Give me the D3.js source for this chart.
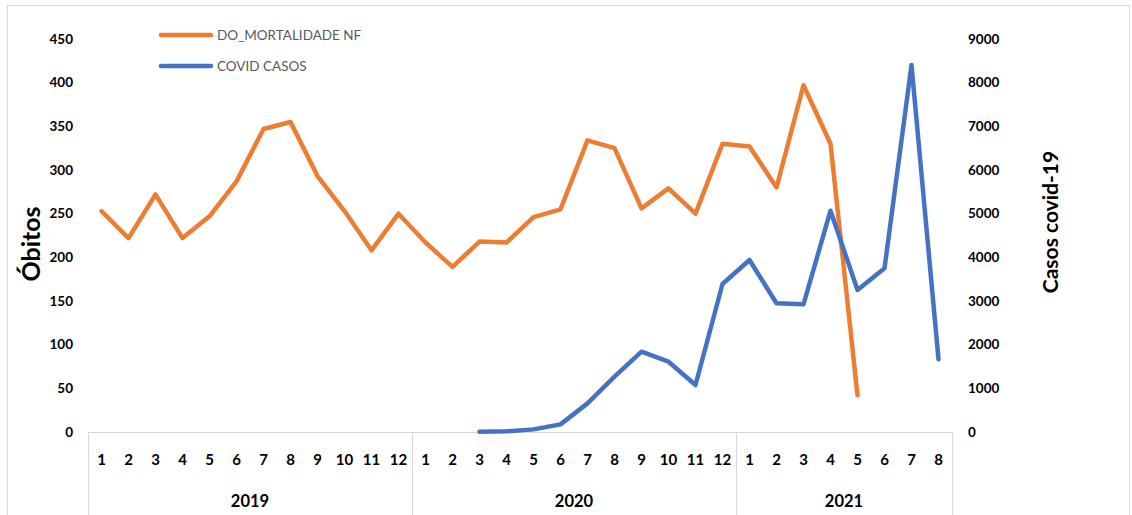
<!DOCTYPE html>
<html>
<head>
<meta charset="utf-8">
<script src="https://cdn.jsdelivr.net/npm/d3@7"></script>
<style>
  body { margin: 0; background: #fff; }
  text { font-family: Lato, "Open Sans", sans-serif; }
</style>
</head>
<body>
<div id="chart"></div>
<script>
const years = ['2019', '2020', '2021'];
const monthsPerYear = [12, 12, 8];
const months = [1,2,3,4,5,6,7,8,9,10,11,12, 1,2,3,4,5,6,7,8,9,10,11,12, 1,2,3,4,5,6,7,8];

// DO_MORTALIDADE NF (left axis)
const mortalidade = [253, 222, 272, 222, 247, 287, 347, 355, 293, 253, 208, 250,
                     217, 189, 218, 217, 246, 255, 334, 325, 256, 279, 250, 330,
                     327, 280, 397, 330, 42, null, null, null];
// COVID CASOS (right axis)
const covid = [null, null, null, null, null, null, null, null, null, null, null, null,
               null, null, 5, 15, 60, 175, 656, 1267, 1840, 1610, 1076, 3389,
               3939, 2947, 2924, 5068, 3252, 3748, 8404, 1665];

const leftTicks = [0, 50, 100, 150, 200, 250, 300, 350, 400, 450];
const rightTicks = [0, 1000, 2000, 3000, 4000, 5000, 6000, 7000, 8000, 9000];

const W = 1132, H = 515;
const margin = { top: 39, left: 88, right: 180, bottom: 83 };
const plotW = W - margin.left - margin.right;
const plotH = H - margin.top - margin.bottom;

const svg = d3.select('#chart').append('svg')
  .attr('width', W).attr('height', H);

// outer frame
svg.append('rect')
  .attr('x', 7.5).attr('y', 5.5).attr('width', W - 10).attr('height', H)
  .attr('fill', 'none').attr('stroke', '#d9d9d9');

const g = svg.append('g')
  .attr('transform', 'translate(' + margin.left + ',' + margin.top + ')');

const idx = d3.range(months.length);
const x = d3.scaleBand().domain(idx).range([0, plotW]);
const yL = d3.scaleLinear().domain([0, 450]).range([plotH, 0]);
const yR = d3.scaleLinear().domain([0, 9000]).range([plotH, 0]);

// left axis labels
const axL = g.append('g').call(d3.axisLeft(yL).tickValues(leftTicks).tickSize(0).tickPadding(15));
axL.select('.domain').remove();
axL.selectAll('text').attr('font-size', 13.5).attr('font-weight', 'bold').attr('fill', '#000')
  .attr('font-family', 'Lato, sans-serif');

// right axis labels
const axR = g.append('g').attr('transform', 'translate(' + plotW + ',0)')
  .call(d3.axisRight(yR).tickValues(rightTicks).tickFormat(d3.format('d')).tickSize(0).tickPadding(16));
axR.select('.domain').remove();
axR.selectAll('text').attr('font-size', 13.5).attr('font-weight', 'bold').attr('fill', '#000')
  .attr('font-family', 'Lato, sans-serif');

// bottom axis: baseline and group dividers
g.append('line')
  .attr('x1', 0).attr('x2', plotW).attr('y1', plotH + 0.5).attr('y2', plotH + 0.5)
  .attr('stroke', '#d9d9d9');

const starts = [0];
monthsPerYear.forEach(n => starts.push(starts[starts.length - 1] + n));
starts.forEach(b => {
  const bx = b < months.length ? x(b) : plotW;
  g.append('line')
    .attr('x1', Math.round(bx) + 0.5).attr('x2', Math.round(bx) + 0.5)
    .attr('y1', plotH).attr('y2', H - margin.top)
    .attr('stroke', '#d9d9d9');
});

const axB = g.append('g').attr('transform', 'translate(0,' + plotH + ')')
  .call(d3.axisBottom(x).tickSize(0).tickPadding(22).tickFormat(i => months[i]));
axB.select('.domain').remove();
axB.selectAll('text').attr('font-size', 15).attr('font-weight', 'bold').attr('fill', '#000')
  .attr('font-family', 'Lato, sans-serif');

years.forEach((yr, k) => {
  const a = x(starts[k]);
  const b = starts[k + 1] < months.length ? x(starts[k + 1]) : plotW;
  g.append('text')
    .attr('x', (a + b) / 2).attr('y', plotH + 75)
    .attr('text-anchor', 'middle')
    .attr('font-size', 16.5).attr('font-weight', 'bold')
    .text(yr);
});

// lines
const cx = i => x(i) + x.bandwidth() / 2;
const lineL = d3.line().defined(d => d != null).x((d, i) => cx(i)).y(d => yL(d));
const lineR = d3.line().defined(d => d != null).x((d, i) => cx(i)).y(d => yR(d));

g.append('path').datum(mortalidade)
  .attr('d', lineL).attr('fill', 'none')
  .attr('stroke', '#ED7D31').attr('stroke-width', 4.5)
  .attr('stroke-linejoin', 'round').attr('stroke-linecap', 'round');

g.append('path').datum(covid)
  .attr('d', lineR).attr('fill', 'none')
  .attr('stroke', '#4472C4').attr('stroke-width', 4.5)
  .attr('stroke-linejoin', 'round').attr('stroke-linecap', 'round');

// axis titles
svg.append('text')
  .attr('transform', 'translate(40,244) rotate(-90)')
  .attr('text-anchor', 'middle')
  .attr('font-size', 25).attr('font-weight', 'bold')
  .text('Óbitos');

svg.append('text')
  .attr('transform', 'translate(1058,222) rotate(-90)')
  .attr('text-anchor', 'middle')
  .attr('font-size', 21).attr('font-weight', 'bold')
  .text('Casos covid-19');

// legend
const legend = [
  { name: 'DO_MORTALIDADE NF', color: '#ED7D31', y: 35 },
  { name: 'COVID CASOS', color: '#4472C4', y: 66 }
];
legend.forEach(l => {
  svg.append('line')
    .attr('x1', 161).attr('x2', 211).attr('y1', l.y).attr('y2', l.y)
    .attr('stroke', l.color).attr('stroke-width', 4.5).attr('stroke-linecap', 'round');
  svg.append('text')
    .attr('x', 217).attr('y', l.y + 5)
    .attr('font-size', 13.5).attr('fill', '#595959')
    .text(l.name);
});
</script>
</body>
</html>
